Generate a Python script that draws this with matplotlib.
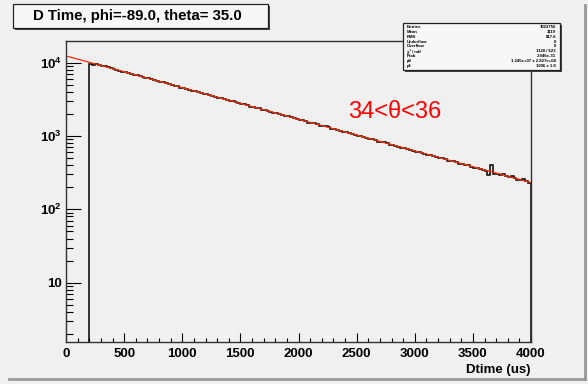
import numpy as np
import matplotlib
matplotlib.use("Agg")
import matplotlib.pyplot as plt
from matplotlib.patches import Rectangle
from matplotlib.ticker import LogLocator, MultipleLocator, FuncFormatter, NullFormatter

# D time histogram, counts per bin (bins start at 200 us, 25 us wide)
BIN_START = 200
BIN_WIDTH = 25
counts = [9600, 9450, 9550, 9240, 9080, 8930, 8640, 8350, 8200, 8070,
          7800, 7540, 7450, 7300, 7060, 6880, 6740, 6590, 6400, 6220,
          6110, 5980, 5800, 5620, 5510, 5400, 5240, 5080, 4990, 4870,
          4760, 4590, 4510, 4420, 4310, 4180, 4090, 3990, 3890, 3770,
          3710, 3630, 3530, 3410, 3340, 3280, 3200, 3090, 3030, 2970,
          2900, 2790, 2750, 2700, 2620, 2520, 2490, 2440, 2380, 2280,
          2250, 2220, 2140, 2070, 2040, 2010, 1950, 1870, 1850, 1810,
          1760, 1700, 1670, 1640, 1590, 1530, 1510, 1490, 1450, 1390,
          1370, 1350, 1310, 1250, 1240, 1220, 1180, 1130, 1120, 1100,
          1070, 1030, 1010, 1000, 970, 930, 920, 900, 880, 840,
          830, 820, 800, 760, 750, 740, 720, 690, 680, 670,
          655, 620, 615, 610, 595, 565, 555, 550, 535, 510,
          505, 495, 485, 462, 455, 450, 440, 418, 412, 405,
          398, 378, 372, 365, 360, 342, 335, 290, 405, 305,
          305, 296, 300, 288, 272, 285, 268, 250, 252, 262,
          240, 226]

# exponential fit parameters
P0 = 1.245e7
P1 = 1006.0

stat_names = ["Entries", "Mean", "RMS", "Underflow", "Overflow",
              "\u03c7\u00b2 / ndf", "Prob", "p0", "p1"]
stat_values = ["1022756", "1119", "817.6", "0", "0", "1120 / 623",
               "2.946e-31", "1.245e+07 \u00b1 2.827e+04", "1006 \u00b1 1.8"]

title = "D Time, phi=-89.0, theta= 35.0"
note = "34<\u03b8<36"

plt.rcParams["font.family"] = ["Liberation Sans", "DejaVu Sans"]
plt.rcParams["mathtext.fontset"] = "custom"
plt.rcParams["mathtext.rm"] = "Liberation Sans:bold"
plt.rcParams["mathtext.it"] = "Liberation Sans:bold"

BG = "#f0f0f0"
W, H = 588, 384
fig = plt.figure(figsize=(W / 100, H / 100), dpi=100, facecolor=BG)


def fx(px):
    return px / W


def fy(py):
    return 1 - py / H


ax = fig.add_axes([fx(66), fy(342), fx(531) - fx(66), fy(41) - fy(342)])
ax.set_facecolor(BG)

edges = BIN_START + BIN_WIDTH * np.arange(len(counts) + 1)
ymin, ymax = 1.55, 19800
ax.stairs(counts, edges, baseline=ymin, color="black", linewidth=1.1)

xf = np.linspace(0, 4000, 400)
ax.plot(xf, P0 / P1 * np.exp(-xf / P1), color="#ff2a00", linewidth=0.9)

ax.set_yscale("log")
ax.set_xlim(0, 4000)
ax.set_ylim(ymin, ymax)

ax.xaxis.set_major_locator(MultipleLocator(500))
ax.xaxis.set_minor_locator(MultipleLocator(100))
ax.yaxis.set_major_locator(LogLocator(base=10))
ax.yaxis.set_minor_locator(LogLocator(base=10, subs=np.arange(2, 10)))
ax.yaxis.set_minor_formatter(NullFormatter())


def ylab(v, _):
    n = int(round(np.log10(v)))
    return "10" if n == 1 else r"$10^{%d}$" % n


ax.yaxis.set_major_formatter(FuncFormatter(ylab))
ax.tick_params(axis="x", which="major", direction="in", length=6.3, width=0.8,
               pad=4, labelsize=9.5)
ax.tick_params(axis="x", which="minor", direction="in", length=3.2, width=0.8)
ax.tick_params(axis="y", which="major", direction="in", length=10.8, width=0.8,
               pad=3, labelsize=9.5)
ax.tick_params(axis="y", which="minor", direction="in", length=5, width=0.8)
for lab in ax.get_xticklabels() + ax.get_yticklabels():
    lab.set_fontweight("bold")
for sp in ax.spines.values():
    sp.set_linewidth(1.0)
    sp.set_color("#333333")

fig.text(fx(531), fy(370), "Dtime (us)", ha="right", va="center",
         fontsize=9.5, fontweight="bold")

fig.text(fx(348), fy(112), note, ha="left", va="center", fontsize=17,
         color="red")

# canvas border shadow
fig.add_artist(plt.Line2D([fx(9), fx(585)], [fy(378.5), fy(378.5)],
                          color="#999999", linewidth=2))
fig.add_artist(plt.Line2D([fx(585), fx(585)], [fy(5), fy(378.5)],
                          color="#999999", linewidth=2))


def pave(x0, y0, x1, y1):
    fig.add_artist(Rectangle((fx(x0 + 2), fy(y1 + 2)), fx(x1 - x0), fy(y0) - fy(y1),
                             transform=fig.transFigure, facecolor="#444444",
                             edgecolor="none"))
    fig.add_artist(Rectangle((fx(x0), fy(y1)), fx(x1 - x0), fy(y0) - fy(y1),
                             transform=fig.transFigure, facecolor="#f7f7f7",
                             edgecolor="#222222", linewidth=0.9))


pave(13, 4, 268, 28)
fig.text(fx(137), fy(16), title, ha="center", va="center", fontsize=10.8,
         fontweight="bold")

pave(403, 23, 560, 70)
for i, (name, val) in enumerate(zip(stat_names, stat_values)):
    yy = fy(27.0 + 4.85 * i)
    fig.text(fx(407), yy, name, ha="left", va="center", fontsize=3.1,
             fontweight="bold")
    fig.text(fx(556), yy, val, ha="right", va="center", fontsize=3.1,
             fontweight="bold")

fig.savefig("out.png", dpi=100, facecolor=BG)
